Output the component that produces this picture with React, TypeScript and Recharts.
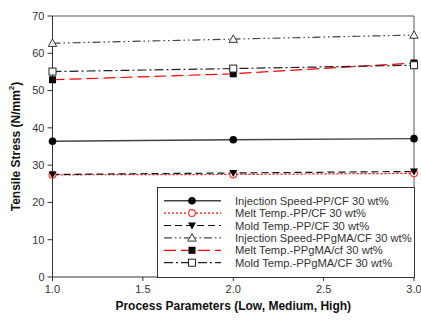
import React from "react";
import {
  LineChart,
  Line,
  XAxis,
  YAxis,
  ReferenceLine,
} from "recharts";

const xValues = [1, 2, 3];
const injectionPP = [36.4, 36.8, 37.1];
const meltPP = [27.4, 27.5, 27.8];
const moldPP = [27.5, 27.9, 28.3];
const injectionPPgMA = [62.7, 63.8, 64.9];
const meltPPgMA = [52.9, 54.5, 57.4];
const moldPPgMA = [55.1, 55.9, 56.8];

const xTicks = [1, 1.5, 2, 2.5, 3];
const yTicks = [0, 10, 20, 30, 40, 50, 60, 70];

const seriesNames = [
  "Injection Speed-PP/CF 30 wt%",
  "Melt Temp.-PP/CF 30 wt%",
  "Mold Temp.-PP/CF 30 wt%",
  "Injection Speed-PPgMA/CF 30 wt%",
  "Melt Temp.-PPgMA/cf 30 wt%",
  "Mold Temp.-PPgMA/CF 30 wt%",
];

const data = xValues.map((x, i) => ({
  x,
  injPP: injectionPP[i],
  meltPP: meltPP[i],
  moldPP: moldPP[i],
  injPPg: injectionPPgMA[i],
  meltPPg: meltPPgMA[i],
  moldPPg: moldPPgMA[i],
}));

type Marker = "circle" | "openCircle" | "triDown" | "openTri" | "square" | "openSquare";

const SERIES: {
  key: string;
  stroke: string;
  dash?: string;
  marker: Marker;
  markerColor: string;
}[] = [
  { key: "injPP", stroke: "#444", marker: "circle", markerColor: "#000" },
  { key: "meltPP", stroke: "#f00", dash: "2 2", marker: "openCircle", markerColor: "#f33" },
  { key: "moldPP", stroke: "#111", dash: "7 4", marker: "triDown", markerColor: "#000" },
  { key: "injPPg", stroke: "#444", dash: "8 3 1.5 3 1.5 3", marker: "openTri", markerColor: "#333" },
  { key: "meltPPg", stroke: "#f00", dash: "12 5", marker: "square", markerColor: "#000" },
  { key: "moldPPg", stroke: "#222", dash: "9 3 2 3", marker: "openSquare", markerColor: "#222" },
];

function drawMarker(m: Marker, cx: number, cy: number, color: string, key?: string) {
  switch (m) {
    case "circle":
      return <circle key={key} cx={cx} cy={cy} r={3.8} fill={color} />;
    case "openCircle":
      return <circle key={key} cx={cx} cy={cy} r={3.4} fill="#fff" stroke={color} strokeWidth={1.2} />;
    case "triDown":
      return (
        <path key={key} d={`M${cx - 4},${cy - 3} L${cx + 4},${cy - 3} L${cx},${cy + 4} Z`} fill={color} />
      );
    case "openTri":
      return (
        <path
          key={key}
          d={`M${cx - 4.2},${cy + 3.2} L${cx + 4.2},${cy + 3.2} L${cx},${cy - 4.2} Z`}
          fill="#fff"
          stroke={color}
          strokeWidth={1}
        />
      );
    case "square":
      return <rect key={key} x={cx - 3.5} y={cy - 3.5} width={7} height={7} fill={color} />;
    case "openSquare":
      return (
        <rect key={key} x={cx - 3.5} y={cy - 3.5} width={7} height={7} fill="#fff" stroke={color} strokeWidth={1} />
      );
  }
}

const YLabel = (props: any) => {
  const vb = props.viewBox || {};
  const cy = vb.y + vb.height / 2;
  return (
    <text
      x={16}
      y={cy}
      transform={`rotate(-90, 16, ${cy})`}
      textAnchor="middle"
      dominantBaseline="central"
      fontSize={12}
      fontWeight="bold"
      fill="#111"
    >
      Tensile Stress (N/mm<tspan dy={-5} fontSize={8}>2</tspan>
      <tspan dy={5}>)</tspan>
    </text>
  );
};

const XLabel = (props: any) => {
  const vb = props.viewBox || {};
  return (
    <text
      x={vb.x + vb.width / 2}
      y={310}
      textAnchor="middle"
      fontSize={12}
      fontWeight="bold"
      fill="#111"
    >
      Process Parameters (Low, Medium, High)
    </text>
  );
};

function LegendBox() {
  return (
    <svg
      width={258}
      height={91}
      style={{ position: "absolute", left: 157, top: 187 }}
    >
      <rect x={0.5} y={0.5} width={257} height={90} fill="#fff" stroke="#333" strokeWidth={1} />
      {SERIES.map((s, i) => {
        const y = 13.7 + i * 12.4;
        return (
          <g key={s.key}>
            <line
              x1={7}
              x2={64}
              y1={y}
              y2={y}
              stroke={s.stroke}
              strokeWidth={s.key === "injPP" ? 1.4 : 1.2}
              strokeDasharray={s.dash}
            />
            {drawMarker(s.marker, 35, y, s.markerColor)}
            <text
              x={78}
              y={y}
              dominantBaseline="central"
              fontSize={11.2}
              fill="#333"
              fontFamily="Liberation Sans, Arial, sans-serif"
            >
              {seriesNames[i]}
            </text>
          </g>
        );
      })}
    </svg>
  );
}

export default function App() {
  return (
    <div
      style={{
        position: "absolute",
        left: 0,
        top: 0,
        width: 421,
        height: 321,
        background: "#fff",
        fontFamily: "Liberation Sans, Arial, sans-serif",
      }}
    >
      <LineChart
        width={421}
        height={321}
        data={data}
        margin={{ top: 16, right: 7, bottom: 0, left: 12.5 }}
      >
        <XAxis
          dataKey="x"
          type="number"
          domain={[1, 3]}
          ticks={xTicks}
          tickFormatter={(v: number) => v.toFixed(1)}
          height={44}
          tickSize={4}
          tickMargin={4}
          stroke="#333"
          tick={{ fill: "#333", fontSize: 11 }}
          label={<XLabel />}
        />
        <YAxis
          type="number"
          domain={[0, 70]}
          ticks={yTicks}
          width={40}
          tickSize={5}
          tickMargin={3}
          stroke="#333"
          tick={{ fill: "#333", fontSize: 11 }}
          label={<YLabel />}
        />
        <ReferenceLine y={70} stroke="#555" strokeWidth={1} />
        <ReferenceLine x={3} stroke="#555" strokeWidth={1} />
        {SERIES.map((s) => (
          <Line
            key={s.key}
            dataKey={s.key}
            stroke={s.stroke}
            strokeWidth={s.key === "injPP" ? 1.4 : 1.2}
            strokeDasharray={s.dash}
            isAnimationActive={false}
            dot={(p: any) => drawMarker(s.marker, p.cx, p.cy, s.markerColor, `${s.key}-${p.index}`)}
            activeDot={false}
          />
        ))}
      </LineChart>
      <LegendBox />
    </div>
  );
}
